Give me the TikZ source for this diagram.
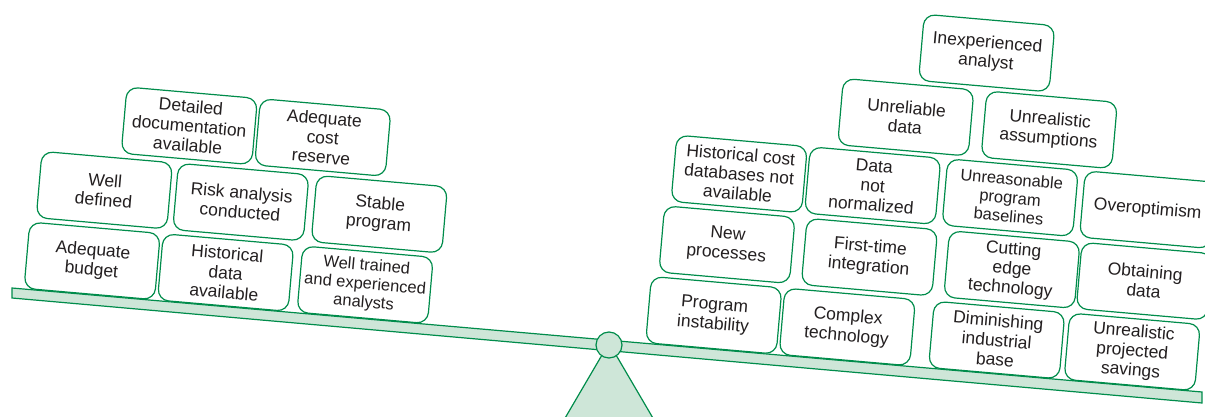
\documentclass[tikz,border=0pt]{standalone}
\usepackage{fontspec}
\setmainfont{Liberation Sans}
\usepackage{tikz}
\usepackage{xcolor}
\usetikzlibrary{positioning}

\begin{document}
\begin{tikzpicture}[x=1pt, y=1pt,
		block/.style={draw=GREEN_LINE, line width=1.2pt, fill=WHITE, rounded corners=11pt,
			minimum width=131pt, minimum height=66.5pt, inner sep=2pt, align=center,
			text=TEXT_GRAY, font={\fontsize{17.5}{19.5}\selectfont}},
		smallblock/.style={block, font={\fontsize{16.5}{18.5}\selectfont}}]
				\definecolor{WHITE}{RGB}{255, 255, 255}
				\definecolor{GREEN_LINE}{RGB}{0, 140, 75}
				\definecolor{PALE_GREEN}{RGB}{206, 230, 216}
				\definecolor{TEXT_GRAY}{RGB}{35, 31, 32}
				\clip (0, 0) rectangle (1205, -417);

				% stand and beam
				\draw[line width=1.2pt, draw=GREEN_LINE, fill=PALE_GREEN] (609, -343) -- (561, -425)
					-- (657, -425) -- cycle;
				\draw[line width=1.2pt, draw=GREEN_LINE, fill=PALE_GREEN] (12, -288) -- (1202, -392)
					-- (1202, -403) -- (12, -298) -- cycle;
				\draw[line width=1.2pt, draw=GREEN_LINE, fill=PALE_GREEN] (609, -345) circle (13);

				\begin{scope}[shift={(12, -288)}, rotate=-5, transform shape]
					% left pan
					\node[block] (budget) at (77.5, 34) {Adequate\\budget};
					\node[block] (histdata) at (211.5, 34) {Historical\\data\\available};
					\node[smallblock] (trained) at (351.5, 34) {Well trained\\and experienced\\analysts};
					\node[block] (defined) at (83.5, 105.5) {Well\\defined};
					\node[block] (risk) at (220.5, 105.5) {Risk analysis\\conducted};
					\node[block] (stable) at (359.5, 105.5) {Stable\\program};
					\node[block] (detailed) at (162.5, 177) {Detailed\\documentation\\available};
					\node[block] (reserve) at (296.5, 177) {Adequate\\cost\\reserve};

					% right pan
					\node[block] (instability) at (701.5, 34) {Program\\instability};
					\node[block] (complex) at (835.5, 34) {Complex\\technology};
					\node[block] (diminishing) at (985.5, 34) {Diminishing\\industrial\\base};
					\node[block] (savings) at (1121.5, 34) {Unrealistic\\projected\\savings};
					\node[block] (newproc) at (708.5, 105.5) {New\\processes};
					\node[block] (firsttime) at (851.5, 105.5) {First-time\\integration};
					\node[block] (cutting) at (994.5, 105.5) {Cutting\\edge\\technology};
					\node[block] (obtaining) at (1127.5, 105.5) {Obtaining\\data};
					\node[block] (histcost) at (714.5, 177) {Historical cost\\databases not\\available};
					\node[block] (notnorm) at (848.5, 177) {Data\\not\\normalized};
					\node[smallblock] (baselines) at (986.5, 177) {Unreasonable\\program\\baselines};
					\node[block] (overopt) at (1124.5, 177) {Overoptimism};
					\node[block] (unreliable) at (875.5, 248) {Unreliable\\data};
					\node[block] (assumptions) at (1019.5, 248) {Unrealistic\\assumptions};
					\node[block] (inexperienced) at (950.5, 319) {Inexperienced\\analyst};
				\end{scope}
			\end{tikzpicture}
\end{document}
